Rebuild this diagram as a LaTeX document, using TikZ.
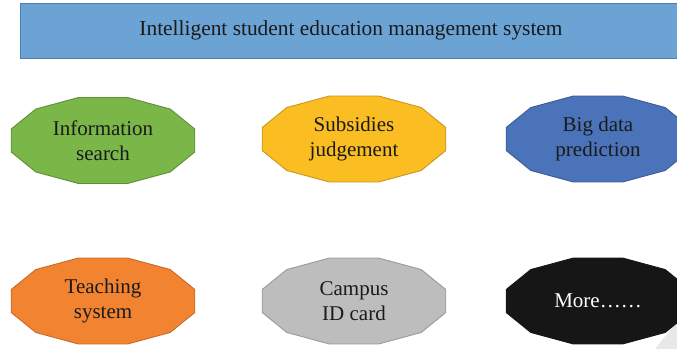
\documentclass[tikz,border=0pt]{standalone}
\usepackage{fontspec}
\setmainfont{Liberation Serif}
\usetikzlibrary{calc}
\definecolor{titlefill}{HTML}{6CA3D5}
\definecolor{titledraw}{HTML}{4F7DAE}
\definecolor{gfill}{HTML}{7AB648}
\definecolor{gdraw}{HTML}{5F8F38}
\definecolor{yfill}{HTML}{FBBE22}
\definecolor{ydraw}{HTML}{C8961C}
\definecolor{bfill}{HTML}{4B73B9}
\definecolor{bdraw}{HTML}{3A5B96}
\definecolor{ofill}{HTML}{F28431}
\definecolor{odraw}{HTML}{C66A26}
\definecolor{sfill}{HTML}{BDBDBD}
\definecolor{sdraw}{HTML}{9A9A9A}
\definecolor{kfill}{HTML}{161616}
\definecolor{txt}{HTML}{1A1A1A}
\newcommand{\dodeca}[3]{%
  \begin{scope}[shift={(#1,#2)}]
    \draw[#3] (15:95 and 44.5) \foreach \a in {45,75,...,345}{ -- (\a:95 and 44.5)} -- cycle;
  \end{scope}}
\tikzset{
  lbl/.style={text=txt, font=\fontsize{21}{25.5}\selectfont, align=center, inner sep=0pt},
  shp/.style={line width=0.9pt, line join=miter}
}
\begin{document}
\begin{tikzpicture}[x=1pt,y=-1pt]
\useasboundingbox (0,0) rectangle (677,349);
\clip (0,0) rectangle (677,349);
\fill[white] (0,0) rectangle (677,349);
% title
\draw[fill=titlefill, draw=titledraw, line width=1pt] (20,3.5) rectangle (700,58);
\node[lbl, font=\fontsize{21.4}{24}\selectfont] (title) at (351,30) {Intelligent student education management system};
% faint corner wedge
\fill[gray!18] (655,349) -- (677,322) -- (677,349) -- cycle;
% shapes
\dodeca{103}{140.5}{shp, fill=gfill, draw=gdraw}
\node[lbl] (info) at (103,140.5) {Information\\search};
\dodeca{354}{139}{shp, fill=yfill, draw=ydraw}
\node[lbl] (subs) at (354,139) {Subsidies\\judgement};
\dodeca{598}{139}{shp, fill=bfill, draw=bdraw}
\node[lbl] (big) at (598,139) {Big data\\prediction};
\dodeca{103}{301}{shp, fill=ofill, draw=odraw}
\node[lbl] (teach) at (103,301) {Teaching\\system};
\dodeca{354}{301}{shp, fill=sfill, draw=sdraw}
\node[lbl] (campus) at (354,301) {Campus\\ID card};
\dodeca{598}{301}{shp, fill=kfill, draw=kfill}
\node[lbl, text=white] (more) at (598,301) {More……};
\end{tikzpicture}
\end{document}
